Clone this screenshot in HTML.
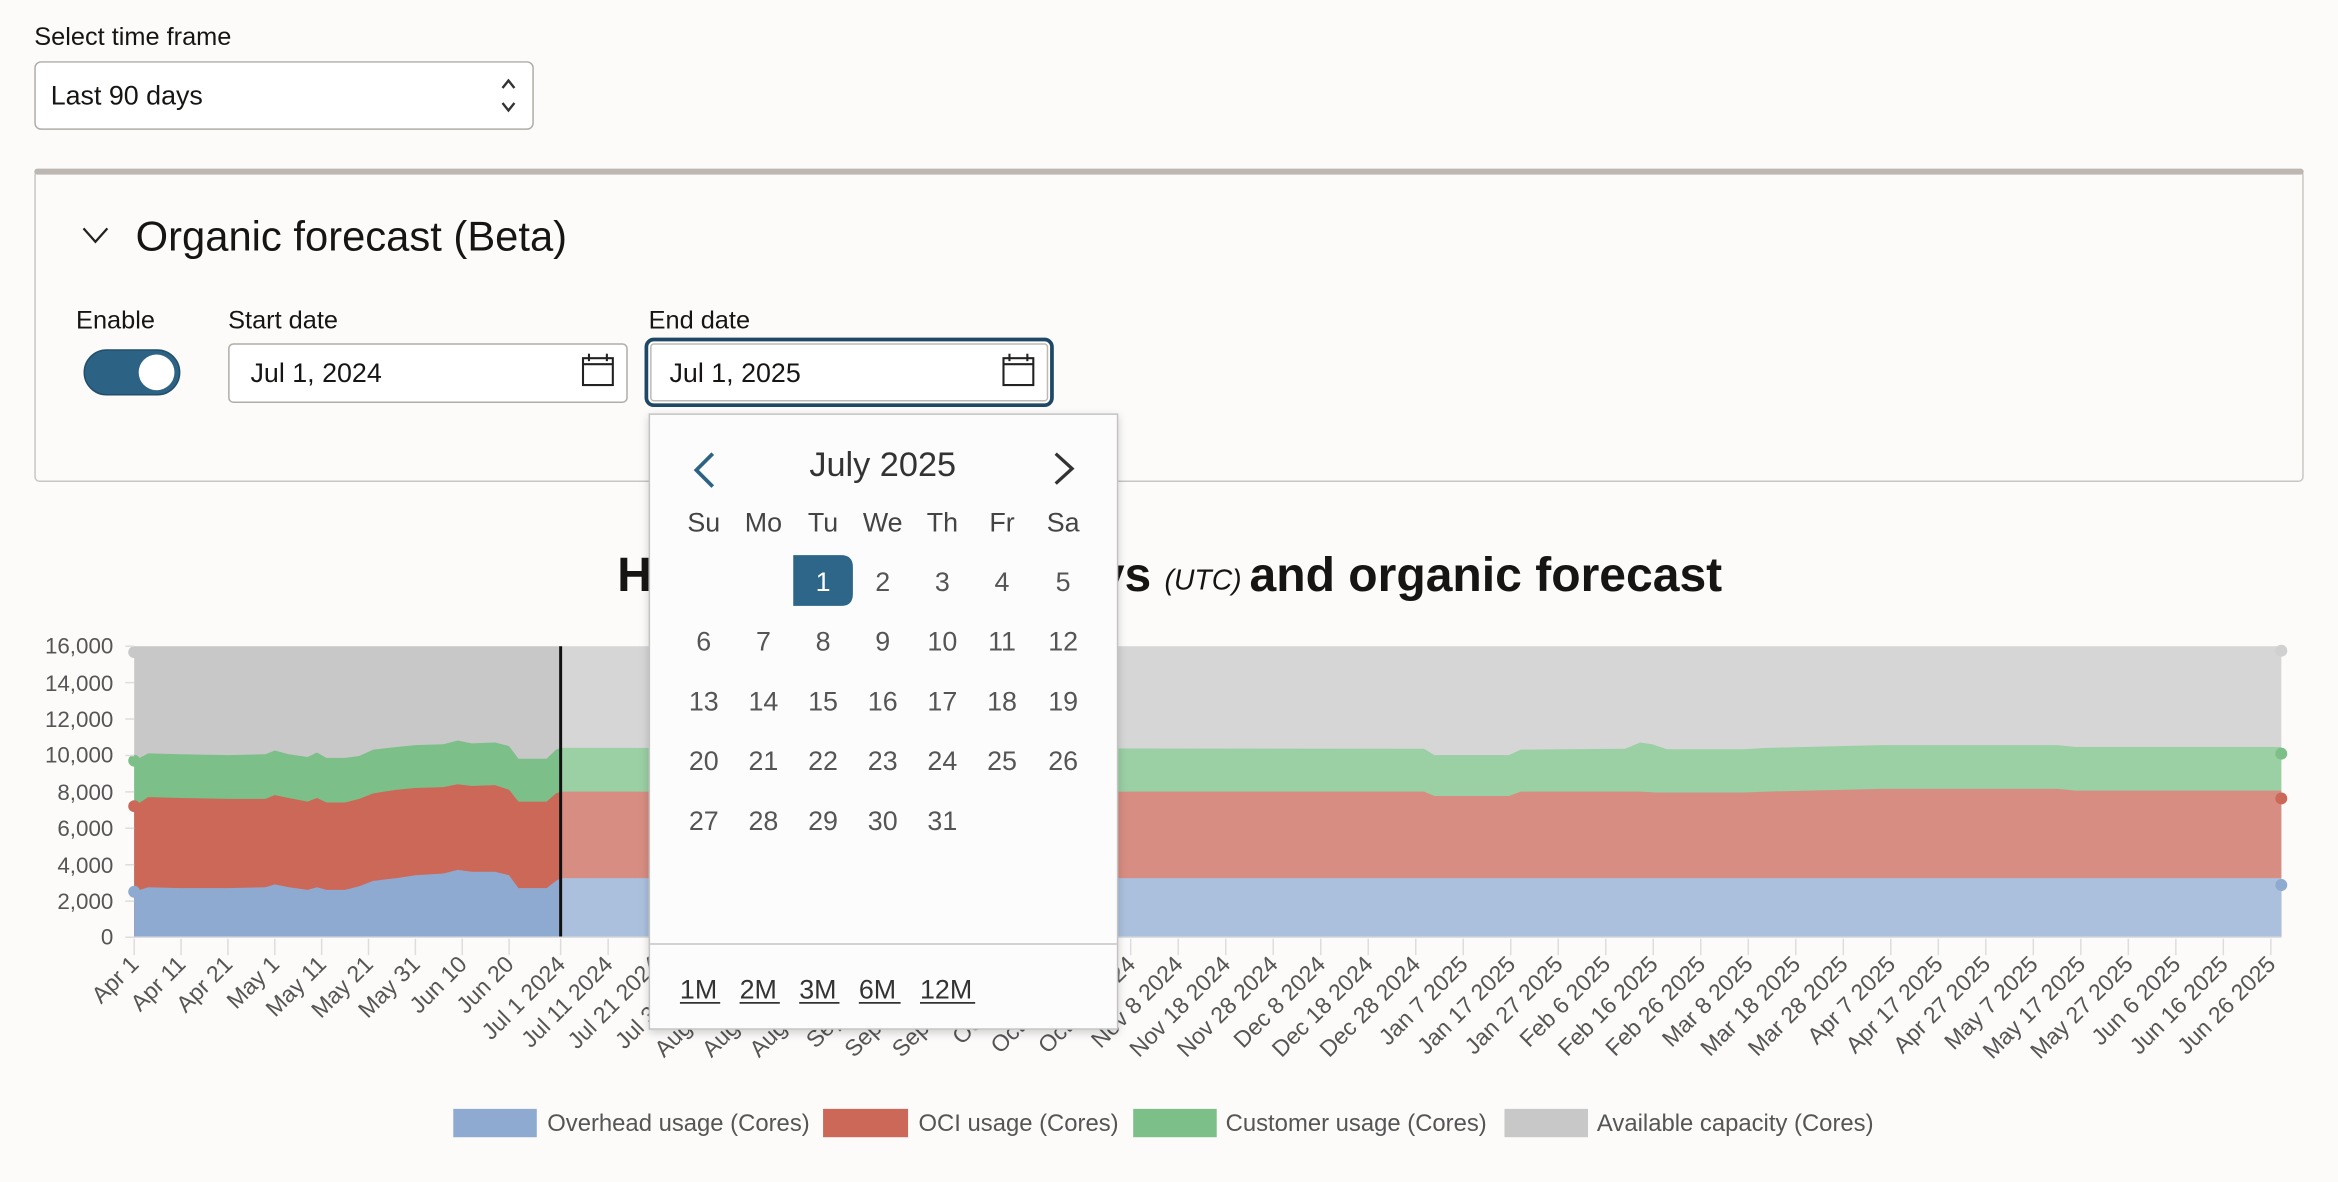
<!DOCTYPE html>
<html><head><meta charset="utf-8"><style>
html,body{margin:0;padding:0;background:#fcfbfa;overflow:hidden}
svg{display:block}
text{font-family:"Liberation Sans",sans-serif}
</style></head><body>
<svg width="2338" height="1182" viewBox="0 0 1568 792" preserveAspectRatio="none" xmlns="http://www.w3.org/2000/svg">
<defs><filter id="sh" x="-10%" y="-10%" width="120%" height="120%"><feDropShadow dx="0" dy="2" stdDeviation="3" flood-color="#000" flood-opacity="0.18"/></filter></defs>
<rect width="1568" height="792" fill="#fcfbfa"/>
<!-- top controls -->
<text x="23" y="30" font-size="17" fill="#161513">Select time frame</text>
<rect x="23.5" y="41.5" width="334" height="45" rx="4" fill="#fff" stroke="#b0aca8"/>
<text x="34" y="70" font-size="18" fill="#161513">Last 90 days</text>
<path d="M337 59 L341 54 L345 59 M337 69 L341 74 L345 69" stroke="#333" stroke-width="1.6" fill="none"/>
<!-- panel -->
<rect x="23.5" y="114.5" width="1521" height="208" rx="3" fill="#fcfbfa" stroke="#c8c6c3"/>
<rect x="23" y="113" width="1522" height="4" rx="2" fill="#bcb7b2"/>
<path d="M56 153 L64 162 L72 153" stroke="#222" stroke-width="1.5" fill="none"/>
<text x="91" y="168" font-size="28" fill="#161513">Organic forecast (Beta)</text>
<text x="51" y="220" font-size="17" fill="#161513">Enable</text>
<text x="153" y="220" font-size="17" fill="#161513">Start date</text>
<text x="435" y="220" font-size="17" fill="#161513">End date</text>
<rect x="56.5" y="234.5" width="64" height="30" rx="15" fill="#2c6385" stroke="#214e6b"/>
<circle cx="105" cy="249.5" r="12" fill="#fff"/>
<rect x="153.5" y="230.5" width="267" height="39" rx="3" fill="#fff" stroke="#b0aca8"/>
<text x="168" y="256" font-size="18" fill="#161513">Jul 1, 2024</text>
<g stroke="#222" stroke-width="1.4" fill="none"><rect x="391" y="240" width="20" height="18"/><line x1="391" y1="244" x2="411" y2="244"/><line x1="395" y1="237" x2="395" y2="242"/><line x1="407" y1="237" x2="407" y2="242"/></g>
<rect x="433.5" y="227.5" width="272" height="44" rx="5" fill="#fff" stroke="#1e4865" stroke-width="2.5"/>
<rect x="436.5" y="230.5" width="266" height="38" rx="2" fill="#fff" stroke="#bdb9b5"/>
<text x="449" y="256" font-size="18" fill="#161513">Jul 1, 2025</text>
<g stroke="#222" stroke-width="1.4" fill="none"><rect x="673" y="240" width="20" height="18"/><line x1="673" y1="244" x2="693" y2="244"/><line x1="677" y1="237" x2="677" y2="242"/><line x1="689" y1="237" x2="689" y2="242"/></g>
<!-- title -->
<text x="414" y="396" font-size="32" font-weight="bold" fill="#161513">H<tspan fill-opacity="0">istorical usage of last 90 da</tspan></text>
<text x="772" y="396" font-size="32" font-weight="bold" fill="#161513" text-anchor="end">ys</text>
<text x="781" y="395" font-size="19" font-style="italic" fill="#161513">(UTC)</text>
<text x="838" y="396" font-size="32" font-weight="bold" fill="#161513" textLength="317" lengthAdjust="spacingAndGlyphs">and organic forecast</text>
<!-- chart -->
<g>
<rect x="90" y="433" width="286" height="195" fill="#c8c8c8"/>
<rect x="376" y="433" width="1154" height="195" fill="#d6d6d6"/>
<polygon fill="#7dbf88" points="90,509.7 99.4,504.8 121.4,505.4 152.9,506 178,505.4 184.3,502.9 193.7,505.4 206.3,507.2 212.6,504.2 218.9,507.8 231.4,507.8 240.9,506.6 250.3,502.3 266,500.5 278.6,499.3 297.4,498.7 306.9,496.2 316.3,498.1 332,497.5 341.4,499.9 347.7,508.4 366.6,508.4 372.9,502.3 376,501.1 376,628 90,628"/>
<polygon fill="#cb6858" points="90,540.2 99.4,534.1 121.4,534.7 152.9,535.3 178,535.3 184.3,532.8 193.7,534.7 206.3,537.1 212.6,534.7 218.9,537.7 231.4,537.7 240.9,535.3 250.3,531.6 266,529.2 278.6,528 297.4,527.4 306.9,525.5 316.3,526.7 332,526.1 341.4,529.2 347.7,537.1 366.6,537.1 372.9,531.6 376,530.4 376,628 90,628"/>
<polygon fill="#8eaad1" points="90,597.5 99.4,594.5 121.4,595.1 152.9,595.1 178,594.5 184.3,592.6 193.7,594.5 206.3,596.3 212.6,594.5 218.9,596.3 231.4,596.3 240.9,593.8 250.3,590.2 266,588.4 278.6,586.5 297.4,585.3 306.9,582.9 316.3,584.1 332,584.1 341.4,586.5 347.7,595.1 366.6,595.1 372.9,590.2 376,588.4 376,628 90,628"/>
<polygon fill="#9bcfa4" points="376,501.1 955,501.7 962,506 1012,506 1020,502.3 1090,501.7 1100,497.5 1108,498.7 1118,502 1170,502 1185,501.1 1262,499.3 1380,499.3 1392,500.5 1530,500.5 1530,628 376,628"/>
<polygon fill="#d78d82" points="376,530.4 955,530.4 962,533.4 1012,533.4 1020,530.4 1100,530.4 1110,531 1170,531 1185,530.4 1262,528.6 1380,528.6 1392,529.8 1530,529.8 1530,628 376,628"/>
<rect x="376" y="588.4" width="1154" height="39.6" fill="#aac0dd"/>
<line x1="376" y1="433" x2="376" y2="628" stroke="#111" stroke-width="2"/>
<circle cx="90" cy="437" r="4" fill="#c8c8c8"/><circle cx="90" cy="509.7" r="4" fill="#7dbf88"/><circle cx="90" cy="540.2" r="4" fill="#cb6858"/><circle cx="90" cy="597.5" r="4" fill="#8eaad1"/>
<circle cx="1530" cy="436" r="4" fill="#d0d0d0"/><circle cx="1530" cy="505" r="4" fill="#7dbf88"/><circle cx="1530" cy="535" r="4" fill="#cb6858"/><circle cx="1530" cy="593" r="4" fill="#8eaad1"/>
</g>
<g font-size="15" fill="#555" text-anchor="end">
<text x="76" y="438">16,000</text><text x="76" y="463">14,000</text><text x="76" y="487">12,000</text><text x="76" y="511">10,000</text><text x="76" y="536">8,000</text><text x="76" y="560">6,000</text><text x="76" y="585">4,000</text><text x="76" y="609">2,000</text><text x="76" y="633">0</text>
</g>
<g stroke="#ddd" stroke-width="1">
<path d="M84 433H90M84 457.4H90M84 481.8H90M84 506.2H90M84 530.6H90M84 555H90M84 579.4H90M84 603.8H90M84 628H90"/>
<line x1="90" y1="628" x2="1530" y2="628"/>
</g>
<g id="xt" font-size="15.5" fill="#555" text-anchor="end"></g>
<!-- legend -->
<g font-size="16" fill="#555">
<rect x="304" y="743" width="56" height="19" fill="#8eaad1"/><text x="367" y="758">Overhead usage (Cores)</text>
<rect x="552" y="743" width="57" height="19" fill="#cb6858"/><text x="616" y="758">OCI usage (Cores)</text>
<rect x="760" y="743" width="56" height="19" fill="#7dbf88"/><text x="822" y="758">Customer usage (Cores)</text>
<rect x="1009" y="743" width="56" height="19" fill="#c8c8c8"/><text x="1071" y="758">Available capacity (Cores)</text>
</g>
<!-- popup -->
<g>
<rect x="435.5" y="277.5" width="314" height="412" fill="#fcfcfc" stroke="#c3c3c3" filter="url(#sh)"/>
<text x="592" y="319" font-size="23" fill="#333" text-anchor="middle">July 2025</text>
<path d="M478 304 L467 315 L478 326" stroke="#2c6385" stroke-width="2.5" fill="none"/>
<path d="M708 304 L719 314 L708 324" stroke="#333" stroke-width="2.2" fill="none"/>
<g font-size="18" fill="#444" text-anchor="middle">
<text x="472" y="356">Su</text><text x="512" y="356">Mo</text><text x="552" y="356">Tu</text><text x="592" y="356">We</text><text x="632" y="356">Th</text><text x="672" y="356">Fr</text><text x="713" y="356">Sa</text>
</g>
<path d="M532 372 H564 Q572 372 572 380 V398 Q572 406 564 406 H532 Z" fill="#2d6688"/>
<g font-size="18" fill="#555" text-anchor="middle">
<text x="552" y="396" fill="#fff">1</text><text x="592" y="396">2</text><text x="632" y="396">3</text><text x="672" y="396">4</text><text x="713" y="396">5</text>
<text x="472" y="436">6</text><text x="512" y="436">7</text><text x="552" y="436">8</text><text x="592" y="436">9</text><text x="632" y="436">10</text><text x="672" y="436">11</text><text x="713" y="436">12</text>
<text x="472" y="476">13</text><text x="512" y="476">14</text><text x="552" y="476">15</text><text x="592" y="476">16</text><text x="632" y="476">17</text><text x="672" y="476">18</text><text x="713" y="476">19</text>
<text x="472" y="516">20</text><text x="512" y="516">21</text><text x="552" y="516">22</text><text x="592" y="516">23</text><text x="632" y="516">24</text><text x="672" y="516">25</text><text x="713" y="516">26</text>
<text x="472" y="556">27</text><text x="512" y="556">28</text><text x="552" y="556">29</text><text x="592" y="556">30</text><text x="632" y="556">31</text>
</g>
<line x1="436" y1="632.5" x2="749" y2="632.5" stroke="#c3c3c3"/>
<g font-size="18" fill="#333">
<text x="456" y="669">1M</text><text x="496" y="669">2M</text><text x="536" y="669">3M</text><text x="576" y="669">6M</text><text x="617" y="669">12M</text>
</g>
<g stroke="#333" stroke-width="1.2"><line x1="456" y1="672" x2="483" y2="672"/><line x1="496" y1="672" x2="523" y2="672"/><line x1="536" y1="672" x2="563" y2="672"/><line x1="576" y1="672" x2="604" y2="672"/><line x1="617" y1="672" x2="654" y2="672"/></g>
</g>
</svg>
<script>
(function(){
var ns="http://www.w3.org/2000/svg";
var g=document.getElementById("xt");
var hist=["Apr 1","Apr 11","Apr 21","May 1","May 11","May 21","May 31","Jun 10","Jun 20"];
var fc=["Jul 1 2024","Jul 11 2024","Jul 21 2024","Jul 31 2024","Aug 10 2024","Aug 20 2024","Aug 30 2024","Sep 9 2024","Sep 19 2024","Sep 29 2024","Oct 9 2024","Oct 19 2024","Oct 29 2024","Nov 8 2024","Nov 18 2024","Nov 28 2024","Dec 8 2024","Dec 18 2024","Dec 28 2024","Jan 7 2025","Jan 17 2025","Jan 27 2025","Feb 6 2025","Feb 16 2025","Feb 26 2025","Mar 8 2025","Mar 18 2025","Mar 28 2025","Apr 7 2025","Apr 17 2025","Apr 27 2025","May 7 2025","May 17 2025","May 27 2025","Jun 6 2025","Jun 16 2025","Jun 26 2025"];
var items=[];
hist.forEach(function(t,i){items.push([90+31.43*i,t]);});
fc.forEach(function(t,i){items.push([376+31.86*i,t]);});
items.forEach(function(it){
 var x=it[0];
 var l=document.createElementNS(ns,"line");
 l.setAttribute("x1",x);l.setAttribute("x2",x);l.setAttribute("y1",629);l.setAttribute("y2",640);
 l.setAttribute("stroke","#ddd");g.parentNode.insertBefore(l,g);
 var t=document.createElementNS(ns,"text");
 var tx=x+4,ty=647;
 t.setAttribute("x",tx);t.setAttribute("y",ty);
 t.setAttribute("transform","rotate(-45 "+tx+" "+ty+")");
 t.textContent=it[1];g.appendChild(t);
});
})();
</script>
</body></html>
